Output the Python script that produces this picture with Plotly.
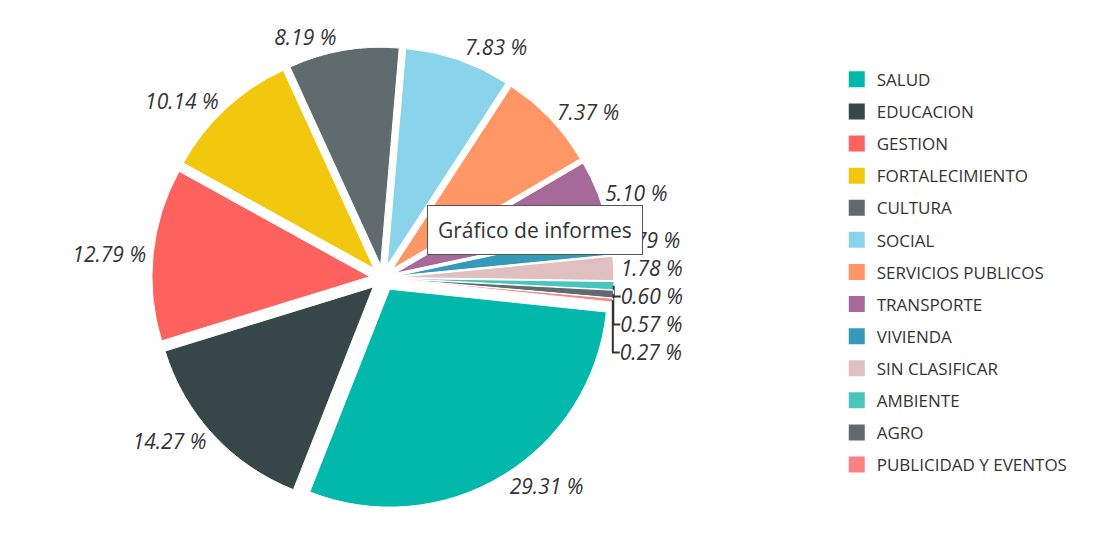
import plotly.graph_objects as go

categories = ["SALUD", "EDUCACION", "GESTION", "FORTALECIMIENTO", "CULTURA", "SOCIAL",
              "SERVICIOS PUBLICOS", "TRANSPORTE", "VIVIENDA", "SIN CLASIFICAR",
              "AMBIENTE", "AGRO", "PUBLICIDAD Y EVENTOS"]
values = [29.31, 14.27, 12.79, 10.14, 8.19, 7.83, 7.37, 5.10, 1.79, 1.78, 0.60, 0.57, 0.27]
colors = ["#01B8AA", "#374649", "#FD625E", "#F2C80F", "#5F6B6D", "#8AD4EB", "#FE9666",
          "#A66999", "#3599B8", "#DFBFBF", "#4AC5BB", "#5F6B6D", "#FB8281"]
labels_text = [f"{v:.2f} %" for v in values]

fig = go.Figure()
fig.add_trace(go.Pie(
    labels=categories,
    values=values,
    text=labels_text,
    textinfo="text",
    textposition="outside",
    sort=False,
    direction="clockwise",
    rotation=96,
    pull=[0.06] * len(values),
    marker=dict(colors=colors, line=dict(color="white", width=1)),
    textfont=dict(family="Open Sans", size=21, color="#333333", style="italic"),
    domain=dict(x=[0.1, 0.564], y=[0.07, 0.945]),
    hoverinfo="label+percent",
    showlegend=False,
))

# legend entries (one per category, same colours as the slices)
for cat, col in zip(categories, colors):
    fig.add_trace(go.Scatter(
        x=[None], y=[None], mode="markers", name=cat, legendgroup=cat,
        marker=dict(symbol="square", size=16, color=col),
        showlegend=True, hoverinfo="skip",
    ))

fig.add_annotation(
    x=0.470, y=0.599, xref="paper", yref="paper", xanchor="center", yanchor="middle",
    text="Gráfico de informes", showarrow=False,
    font=dict(family="Open Sans", size=21, color="#333333"),
    bgcolor="white", bordercolor="#555555", borderwidth=1, borderpad=10,
)

fig.update_layout(
    width=1119, height=548,
    paper_bgcolor="white", plot_bgcolor="white",
    margin=dict(l=10, r=10, t=10, b=10, autoexpand=False),
    font=dict(family="Open Sans", color="#333333"),
    xaxis=dict(visible=False),
    yaxis=dict(visible=False),
    legend=dict(
        x=0.745, y=0.917, xanchor="left", yanchor="top",
        font=dict(family="Open Sans", size=17, color="#333333"),
        traceorder="grouped", tracegroupgap=7,
    ),
    showlegend=True,
)

fig.write_html("out.html")
